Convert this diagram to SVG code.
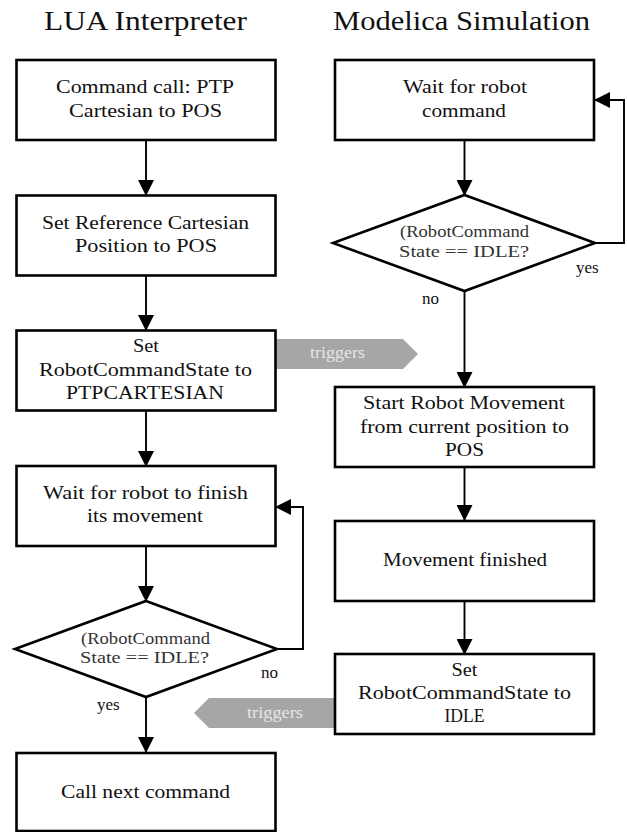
<svg xmlns="http://www.w3.org/2000/svg" width="627" height="832" viewBox="0 0 627 832" font-family="'Liberation Serif', 'Times New Roman', 'DejaVu Serif', 'Noto Serif', serif">
<style>
.box{fill:#fff;stroke:#000;stroke-width:2.6}
text{font-family:'Liberation Serif','Times New Roman','DejaVu Serif','Noto Serif',serif}
.t{font-size:19.5px;fill:#111;text-anchor:middle}
.title{font-size:27px;fill:#111;text-anchor:middle}
.dt{font-size:16.5px;fill:#333;text-anchor:middle}
.lbl{font-size:17px;fill:#111}
.trg{fill:#a6a6a6}
.tt{font-size:16px;fill:#e6e6e6;text-anchor:middle}
.c{fill:none;stroke:#000;stroke-width:1.9}
</style>
<defs>
<marker id="ah" markerUnits="userSpaceOnUse" markerWidth="16" markerHeight="16" viewBox="0 0 16 16" refX="15" refY="8" orient="auto">
<path d="M0,0 L16,8 L0,16 z" fill="#000"/>
</marker>
</defs>

<text class="title" x="145.5" y="30" textLength="203" lengthAdjust="spacingAndGlyphs">LUA Interpreter</text>
<text class="title" x="461.5" y="30" textLength="257" lengthAdjust="spacingAndGlyphs">Modelica Simulation</text>

<g id="triggers1">
<polygon class="trg" points="275,339 403,339 418,354 403,369 275,369"/>
<text class="tt" x="337.5" y="358" textLength="55" lengthAdjust="spacingAndGlyphs">triggers</text>
</g>
<g id="triggers2">
<polygon class="trg" points="336,698 209,698 194,713 209,728 336,728"/>
<text class="tt" x="275" y="718" textLength="56" lengthAdjust="spacingAndGlyphs">triggers</text>
</g>

<g id="connectors">
<line class="c" x1="146" y1="140" x2="146" y2="195" marker-end="url(#ah)"/>
<line class="c" x1="146" y1="276" x2="146" y2="330" marker-end="url(#ah)"/>
<line class="c" x1="146" y1="411" x2="146" y2="466" marker-end="url(#ah)"/>
<line class="c" x1="146" y1="546" x2="146" y2="601" marker-end="url(#ah)"/>
<line class="c" x1="146" y1="697" x2="146" y2="752" marker-end="url(#ah)"/>
<polyline class="c" points="277,649 303,649 303,507 276,507" marker-end="url(#ah)"/>
<line class="c" x1="464.5" y1="140" x2="464.5" y2="195" marker-end="url(#ah)"/>
<line class="c" x1="464.5" y1="291" x2="464.5" y2="387" marker-end="url(#ah)"/>
<line class="c" x1="464.5" y1="467" x2="464.5" y2="520" marker-end="url(#ah)"/>
<line class="c" x1="464.5" y1="602" x2="464.5" y2="654" marker-end="url(#ah)"/>
<polyline class="c" points="595,243 624,243 624,100 595,100" marker-end="url(#ah)"/>
</g>

<g id="l1">
<rect class="box" x="16.5" y="60" width="259" height="80"/>
<text class="t" x="145" y="93" textLength="178" lengthAdjust="spacingAndGlyphs">Command call: PTP</text>
<text class="t" x="145.5" y="117" textLength="153" lengthAdjust="spacingAndGlyphs">Cartesian to POS</text>
</g>
<g id="l2">
<rect class="box" x="16.5" y="195.5" width="259" height="80"/>
<text class="t" x="145.5" y="229" textLength="207" lengthAdjust="spacingAndGlyphs">Set Reference Cartesian</text>
<text class="t" x="146" y="252" textLength="142" lengthAdjust="spacingAndGlyphs">Position to POS</text>
</g>
<g id="l3">
<rect class="box" x="16.5" y="330.5" width="259" height="80"/>
<text class="t" x="146" y="352" textLength="26" lengthAdjust="spacingAndGlyphs">Set</text>
<text class="t" x="145.5" y="376" textLength="213" lengthAdjust="spacingAndGlyphs">RobotCommandState to</text>
<text class="t" x="145" y="399" textLength="158" lengthAdjust="spacingAndGlyphs">PTPCARTESIAN</text>
</g>
<g id="l4">
<rect class="box" x="16.5" y="466" width="259" height="80"/>
<text class="t" x="145.5" y="499" textLength="205" lengthAdjust="spacingAndGlyphs">Wait for robot to finish</text>
<text class="t" x="145" y="522" textLength="116" lengthAdjust="spacingAndGlyphs">its movement</text>
</g>
<g id="ld">
<polygon class="box" points="146,601 277,649 146,697 15,649"/>
<text class="dt" x="145.5" y="644" textLength="129" lengthAdjust="spacingAndGlyphs">(RobotCommand</text>
<text class="dt" x="144.5" y="663" textLength="129" lengthAdjust="spacingAndGlyphs">State  == IDLE?</text>
</g>
<g id="l5">
<rect class="box" x="16.5" y="753" width="259" height="78"/>
<text class="t" x="145.5" y="798" textLength="169" lengthAdjust="spacingAndGlyphs">Call next command</text>
</g>

<g id="r1">
<rect class="box" x="335" y="60" width="259" height="80"/>
<text class="t" x="465" y="93" textLength="124" lengthAdjust="spacingAndGlyphs">Wait for robot</text>
<text class="t" x="464" y="117" textLength="84" lengthAdjust="spacingAndGlyphs">command</text>
</g>
<g id="rd">
<polygon class="box" points="464.5,195 595,243 464.5,291 333,243"/>
<text class="dt" x="464.5" y="237" textLength="129" lengthAdjust="spacingAndGlyphs">(RobotCommand</text>
<text class="dt" x="464" y="257" textLength="130" lengthAdjust="spacingAndGlyphs">State  == IDLE?</text>
</g>
<g id="r2">
<rect class="box" x="335" y="387" width="259" height="80"/>
<text class="t" x="464" y="409" textLength="202" lengthAdjust="spacingAndGlyphs">Start Robot Movement</text>
<text class="t" x="464.5" y="433" textLength="209" lengthAdjust="spacingAndGlyphs">from current position to</text>
<text class="t" x="464.5" y="456" textLength="39" lengthAdjust="spacingAndGlyphs">POS</text>
</g>
<g id="r3">
<rect class="box" x="335" y="521" width="259" height="80"/>
<text class="t" x="465" y="566" textLength="164" lengthAdjust="spacingAndGlyphs">Movement finished</text>
</g>
<g id="r4">
<rect class="box" x="335" y="654" width="259" height="80"/>
<text class="t" x="464.5" y="676" textLength="26" lengthAdjust="spacingAndGlyphs">Set</text>
<text class="t" x="464.5" y="699" textLength="213" lengthAdjust="spacingAndGlyphs">RobotCommandState to</text>
<text class="t" x="464.5" y="722" textLength="40" lengthAdjust="spacingAndGlyphs">IDLE</text>
</g>

<g id="labels">
<text class="lbl" x="261" y="678">no</text>
<text class="lbl" x="97" y="710">yes</text>
<text class="lbl" x="576" y="273">yes</text>
<text class="lbl" x="422" y="304">no</text>
</g>
</svg>
